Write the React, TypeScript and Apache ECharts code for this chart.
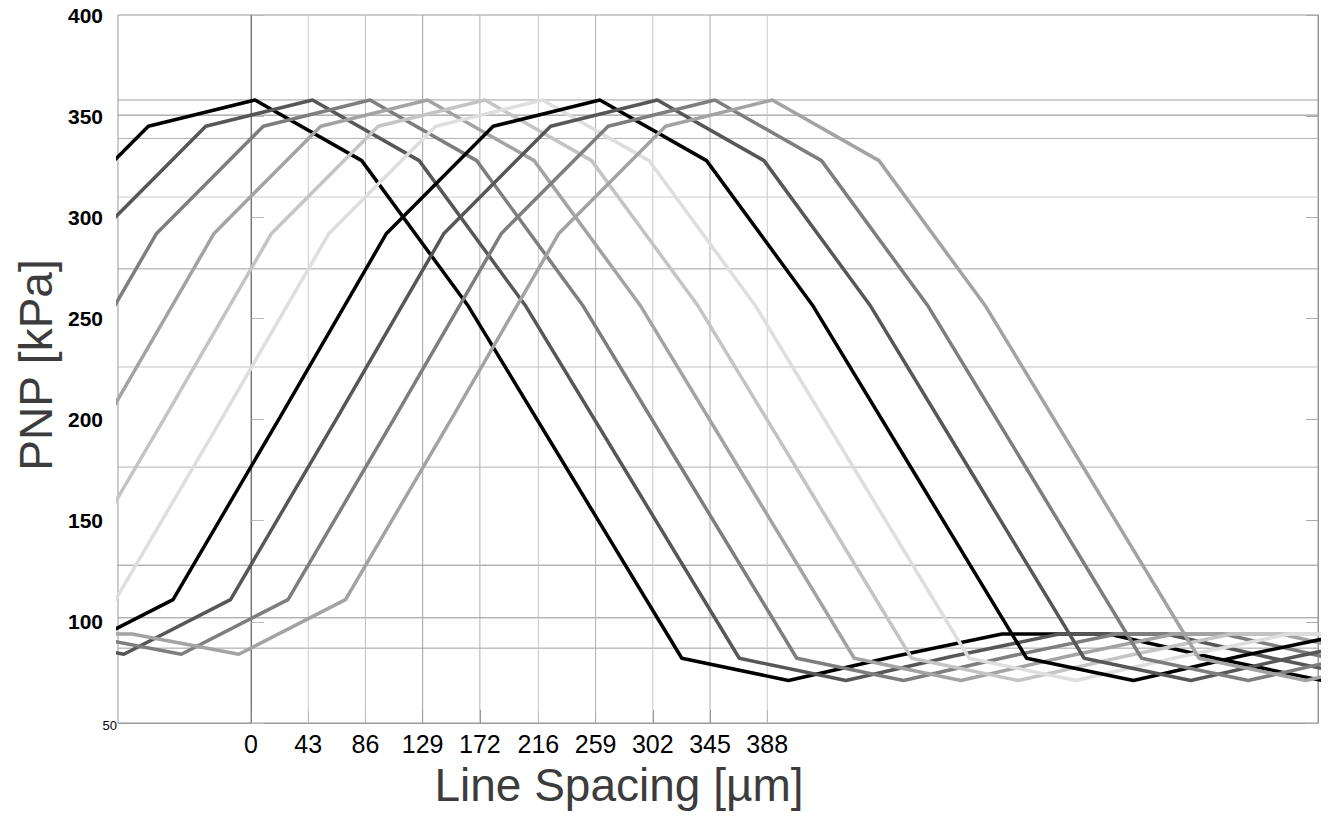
import React, { useEffect, useRef } from 'react';
import * as echarts from 'echarts';

// X tick labels (µm)
const xTickValues = [0, 43, 86, 129, 172, 216, 259, 302, 345, 388];

// Ten PNP profiles, [line spacing µm, PNP kPa]
const curve0 = [[-157.4, 292], [-77.2, 345], [3, 358], [83.2, 328], [163.4, 256], [243.6, 169], [323.8, 82], [404, 71], [484.2, 83], [564.4, 94], [644.6, 94], [724.8, 82], [805, 71]];
const curve1 = [[-114.2, 292], [-34, 345], [46.2, 358], [126.4, 328], [206.6, 256], [286.8, 169], [367, 82], [447.2, 71], [527.4, 83], [607.6, 94], [687.8, 94], [768, 82], [848.2, 71]];
const curve2 = [[-151.2, 201], [-71, 292], [9.2, 345], [89.4, 358], [169.6, 328], [249.8, 256], [330, 169], [410.2, 82], [490.4, 71], [570.6, 83], [650.8, 94], [731, 94], [811.2, 82]];
const curve3 = [[-108, 201], [-27.8, 292], [52.4, 345], [132.6, 358], [212.8, 328], [293, 256], [373.2, 169], [453.4, 82], [533.6, 71], [613.8, 83], [694, 94], [774.2, 94], [854.4, 82]];
const curve4 = [[-145, 111], [-64.8, 201], [15.4, 292], [95.6, 345], [175.8, 358], [256, 328], [336.2, 256], [416.4, 169], [496.6, 82], [576.8, 71], [657, 83], [737.2, 94], [817.4, 94]];
const curve5 = [[-182, 84], [-101.8, 111], [-21.6, 201], [58.6, 292], [138.8, 345], [219, 358], [299.2, 328], [379.4, 256], [459.6, 169], [539.8, 82], [620, 71], [700.2, 83], [780.4, 94], [860.6, 94]];
const curve6 = [[-138.8, 84], [-58.6, 111], [21.6, 201], [101.8, 292], [182, 345], [262.2, 358], [342.4, 328], [422.6, 256], [502.8, 169], [583, 82], [663.2, 71], [743.4, 83], [823.6, 94]];
const curve7 = [[-175.8, 94], [-95.6, 84], [-15.4, 111], [64.8, 201], [145, 292], [225.2, 345], [305.4, 358], [385.6, 328], [465.8, 256], [546, 169], [626.2, 82], [706.4, 71], [786.6, 83], [866.8, 94]];
const curve8 = [[-132.6, 94], [-52.4, 84], [27.8, 111], [108, 201], [188.2, 292], [268.4, 345], [348.6, 358], [428.8, 328], [509, 256], [589.2, 169], [669.4, 82], [749.6, 71], [829.8, 83]];
const curve9 = [[-169.6, 94], [-89.4, 94], [-9.2, 84], [71, 111], [151.2, 201], [231.4, 292], [311.6, 345], [391.8, 358], [472, 328], [552.2, 256], [632.4, 169], [712.6, 82], [792.8, 71], [873, 83]];

const curves = [curve0, curve1, curve2, curve3, curve4, curve5, curve6, curve7, curve8, curve9];
const curveColors = ['#000000', '#575757', '#7e7e7e', '#a3a3a3', '#c4c4c4', '#dedede', '#000000', '#575757', '#7e7e7e', '#a3a3a3'];

// Irregular horizontal reference lines (kPa)
const hGridValues = [358, 350.5, 339, 310, 274.5, 226, 176.5, 128, 102, 87];
const hGridColors = ['#a0a0a0', '#888888', '#b0b0b0', '#cccccc', '#a0a0a0', '#c0c0c0', '#b0b0b0', '#909090', '#909090', '#a0a0a0'];
const vGridColors = ['#808080', '#cccccc', '#c0c0c0', '#a0a0a0', '#b0b0b0', '#c8c8c8', '#b0b0b0', '#c8c8c8', '#a8a8a8', '#c8c8c8'];

const X_MIN = -100;
const X_MAX = 802;
const Y_MIN = 50;
const Y_MAX = 400;

const FONT = 'Liberation Sans, Arial, sans-serif';

export default function App() {
  const ref = useRef<HTMLDivElement>(null);
  useEffect(() => {
    const chart = echarts.init(ref.current as HTMLDivElement, null, { renderer: 'svg' });

    const hSeries = hGridValues.map((v, i) => ({
      type: 'line',
      data: [[X_MIN, v], [X_MAX, v]],
      symbol: 'none',
      silent: true,
      z: 1,
      lineStyle: { color: hGridColors[i], width: 1 },
    }));
    const vSeries = xTickValues.map((x, i) => ({
      type: 'line',
      data: [[x, Y_MIN], [x, Y_MAX]],
      symbol: 'none',
      silent: true,
      z: 1,
      lineStyle: { color: vGridColors[i], width: 1 },
    }));
    const cSeries = curves.map((c, i) => ({
      type: 'line',
      data: c,
      symbol: 'none',
      z: 3,
      lineStyle: { color: curveColors[i], width: 3.5 },
    }));

    chart.setOption({
      animation: false,
      textStyle: { fontFamily: FONT },
      grid: {
        left: 118, top: 15, width: 1200, height: 708,
        show: true, borderColor: '#999999', borderWidth: 1, backgroundColor: 'transparent',
      },
      xAxis: {
        type: 'value', min: X_MIN, max: X_MAX,
        axisLine: { show: true, lineStyle: { color: '#999999' } },
        axisTick: { show: true, inside: true, length: 13, customValues: xTickValues, lineStyle: { color: '#888888' } },
        axisLabel: { customValues: xTickValues, fontSize: 25, color: '#000', margin: 8, fontFamily: FONT },
        splitLine: { show: false },
      },
      yAxis: [
        {
          type: 'value', min: Y_MIN, max: Y_MAX, interval: 50, position: 'left',
          axisLine: { show: true, lineStyle: { color: '#666666' } },
          axisTick: { show: true, inside: true, length: 13, lineStyle: { color: '#bbbbbb' } },
          axisLabel: {
            fontSize: 21, fontWeight: 'bold', color: '#000', margin: 15, padding: [8, 0, 0, 0], fontFamily: FONT,
            formatter: (v: number) => (v === Y_MIN ? '' : String(v)),
          },
          splitLine: { show: false },
        },
        {
          type: 'value', min: Y_MIN, max: Y_MAX, interval: 50, position: 'right',
          axisLine: { show: true, lineStyle: { color: '#999999' } },
          axisTick: { show: true, inside: true, length: 12, lineStyle: { color: '#aaaaaa' } },
          axisLabel: { show: false },
          splitLine: { show: false },
        },
      ],
      graphic: [
        { type: 'text', x: 619, y: 785, style: { text: 'Line Spacing [µm]', fontSize: 46, fontFamily: FONT, fill: '#3c3c3c', align: 'center', verticalAlign: 'middle' } },
        { type: 'text', x: 36, y: 365, rotation: Math.PI / 2, style: { text: 'PNP [kPa]', fontSize: 46, fontFamily: FONT, fill: '#3c3c3c', align: 'center', verticalAlign: 'middle' } },
        { type: 'text', x: 117, y: 725, style: { text: '50', fontSize: 13, fontFamily: FONT, fill: '#000', align: 'right', verticalAlign: 'middle' } },
      ],
      series: [...hSeries, ...vSeries, ...cSeries],
    });
    return () => chart.dispose();
  }, []);
  return <div ref={ref} style={{ position: 'fixed', left: 0, top: 0, width: 1328, height: 817, background: '#fff' }} />;
}
